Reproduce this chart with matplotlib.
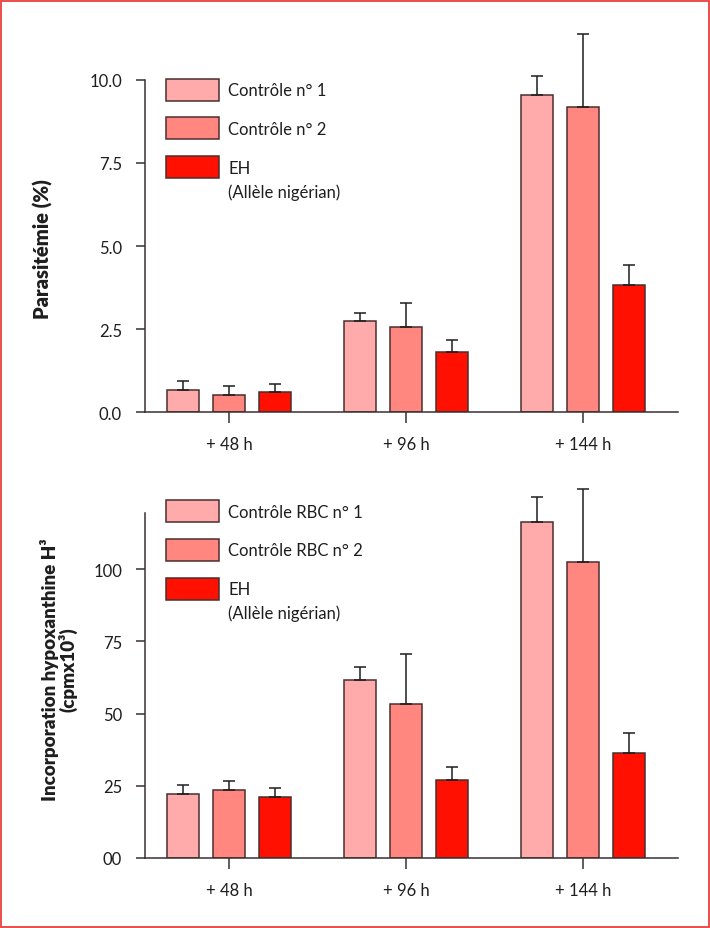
import numpy as np
import matplotlib
matplotlib.use("Agg")
import matplotlib.pyplot as plt
from matplotlib.patches import Rectangle

plt.rcParams["font.family"] = ["Lato", "DejaVu Sans"]

times = ["+ 48 h", "+ 96 h", "+ 144 h"]

# Parasitémie (%)
para_ctrl1 = [0.68, 2.74, 9.55]
para_ctrl1_err = [0.25, 0.26, 0.57]
para_ctrl2 = [0.53, 2.55, 9.17]
para_ctrl2_err = [0.25, 0.73, 2.19]
para_eh = [0.60, 1.80, 3.83]
para_eh_err = [0.26, 0.37, 0.61]

# Incorporation hypoxanthine (cpm x 10^3)
inc_ctrl1 = [22.3, 61.5, 116.4]
inc_ctrl1_err = [2.9, 4.7, 8.7]
inc_ctrl2 = [23.7, 53.4, 102.5]
inc_ctrl2_err = [3.0, 17.3, 25.3]
inc_eh = [21.2, 27.1, 36.2]
inc_eh_err = [3.1, 4.5, 7.2]

colors = ["#ffabab", "#ff877f", "#ff1000"]
edge = "#4a2e2e"
ink = "#1e1e1e"

W, H = 710, 929
fig = plt.figure(figsize=(W / 100, H / 100), dpi=100)


def px_axes(left, top, right, bottom):
    return fig.add_axes([left / W, 1 - bottom / H, (right - left) / W, (bottom - top) / H])


def draw_panel(ax, series, errors, ylim, yticks, yticklabels):
    x = np.arange(len(times))
    offsets = [-0.26, 0.0, 0.26]
    for vals, errs, off, c in zip(series, errors, offsets, colors):
        ax.bar(x + off, vals, width=0.186, color=c, edgecolor=edge, linewidth=1.1, zorder=2)
        ax.errorbar(x + off, vals, yerr=[np.zeros(len(errs)), errs], fmt="none",
                    ecolor=ink, elinewidth=1.1, capsize=4.3, capthick=1.1,
                    clip_on=False, zorder=3)
    ax.set_xlim(-0.4746, 2.5367)
    ax.set_ylim(*ylim)
    ax.set_xticks(x)
    ax.set_xticklabels(times)
    ax.set_yticks(yticks)
    ax.set_yticklabels(yticklabels)
    for s in ["top", "right"]:
        ax.spines[s].set_visible(False)
    for s in ["left", "bottom"]:
        ax.spines[s].set_color("#3a3030")
        ax.spines[s].set_linewidth(1.1)
    ax.tick_params(axis="y", direction="out", length=6.5, width=1.1, pad=10,
                   labelsize=12, colors="#3a3030", labelcolor=ink)
    ax.tick_params(axis="x", direction="out", length=8, width=1.1, pad=9,
                   labelsize=12, colors="#3a3030", labelcolor=ink)


def draw_legend(labels, tops):
    # legend boxes and texts, positions in figure pixels
    for lab, top, c in zip(labels, tops, colors):
        fig.add_artist(Rectangle((166 / W, 1 - (top + 22) / H), 53 / W, 22 / H,
                                 transform=fig.transFigure, facecolor=c,
                                 edgecolor=edge, linewidth=1.1))
        fig.text(228 / W, 1 - (top + 12) / H, lab, fontsize=12,
                 color=ink, ha="left", va="center")


ax1 = px_axes(145, 80.7, 678, 413.3)
draw_panel(ax1, [para_ctrl1, para_ctrl2, para_eh],
           [para_ctrl1_err, para_ctrl2_err, para_eh_err],
           (0, 10), [0, 2.5, 5, 7.5, 10], ["0.0", "2.5", "5.0", "7.5", "10.0"])
ax1.set_ylabel("Parasitémie (%)", fontsize=14.5, fontweight="heavy", color=ink)
ax1.yaxis.set_label_coords(-0.172, 0.495)
draw_legend(["Contrôle n° 1", "Contrôle n° 2", "EH"], [79.5, 118, 157])
fig.text(228 / W, 1 - 193 / H, "(Allèle nigérian)", fontsize=12,
         color=ink, ha="left", va="center")

ax2 = px_axes(145, 514.3, 678, 859)
draw_panel(ax2, [inc_ctrl1, inc_ctrl2, inc_eh],
           [inc_ctrl1_err, inc_ctrl2_err, inc_eh_err],
           (0, 119.3), [0, 25, 50, 75, 100], ["00", "25", "50", "75", "100"])
ax2.set_ylabel("Incorporation hypoxanthine H³\n(cpmx10³)", fontsize=13.5,
               fontweight="heavy", color=ink, linespacing=1.0)
ax2.yaxis.set_label_coords(-0.126, 0.55)
draw_legend(["Contrôle RBC n° 1", "Contrôle RBC n° 2", "EH"], [501, 539.5, 578.5])
fig.text(228 / W, 1 - 614 / H, "(Allèle nigérian)", fontsize=12,
         color=ink, ha="left", va="center")

# red frame around the figure
fig.add_artist(Rectangle((1.5 / W, 1.5 / H), (W - 3) / W, (H - 3) / H,
                         transform=fig.transFigure, fill=False,
                         edgecolor="#e8302c", linewidth=1.2))

fig.savefig("out.png", dpi=100)
